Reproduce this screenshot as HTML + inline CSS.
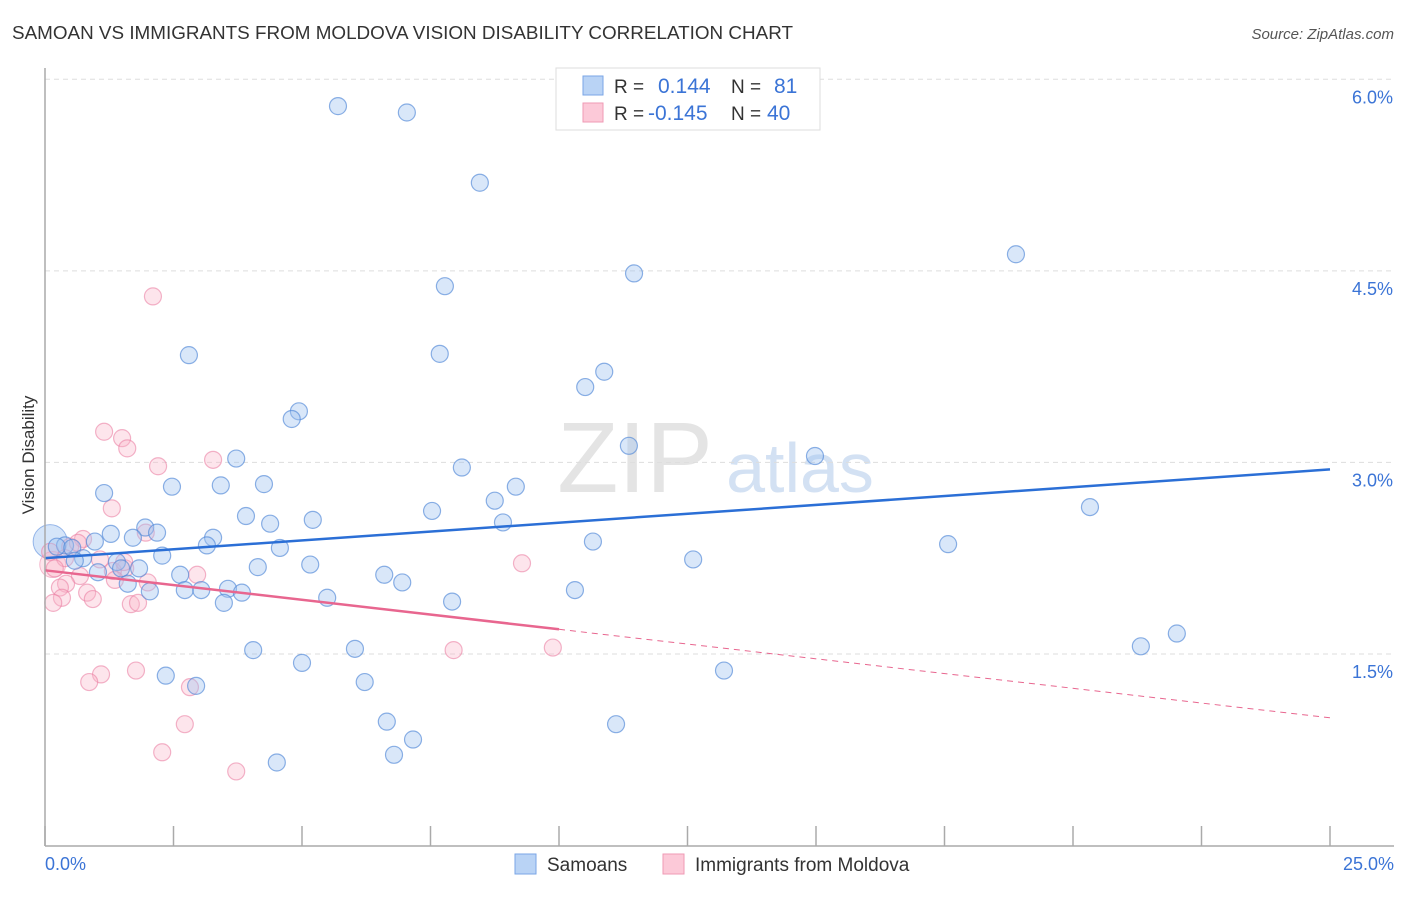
<!DOCTYPE html>
<html><head><meta charset="utf-8"><style>
body{margin:0;background:#fff;font-family:"Liberation Sans",sans-serif;}
svg text{font-family:"Liberation Sans",sans-serif;}
</style></head><body>
<svg id="c" width="1406" height="892" xmlns="http://www.w3.org/2000/svg">
<text x="12" y="39" font-size="18.8" fill="#333" textLength="781" lengthAdjust="spacingAndGlyphs">SAMOAN VS IMMIGRANTS FROM MOLDOVA VISION DISABILITY CORRELATION CHART</text>
<text x="1394" y="39" font-size="15" fill="#555" font-style="italic" text-anchor="end">Source: ZipAtlas.com</text>
<text transform="translate(34,455) rotate(-90)" font-size="17" fill="#333" text-anchor="middle">Vision Disability</text>
<text x="635" y="492" font-size="100" fill="#e4e4e4" font-family="Liberation Serif" text-anchor="middle">ZIP</text>
<text x="800" y="492" font-size="70" fill="#d3e1f3" text-anchor="middle">atlas</text>
<g id="grid"></g><g id="pts"></g><g id="lines"></g>
<line x1="45" y1="68" x2="45" y2="846" stroke="#aaa" stroke-width="1.5"/>
<line x1="45" y1="846" x2="1394" y2="846" stroke="#aaa" stroke-width="1.5"/>
<text x="45" y="870" font-size="18" fill="#3b74d6">0.0%</text>
<text x="1394" y="870" font-size="18" fill="#3b74d6" text-anchor="end">25.0%</text>
<g>
<rect x="556" y="68" width="264" height="62" fill="#fff" stroke="#ddd"/>
<rect x="583" y="76" width="20" height="19" fill="#b9d3f5" stroke="#7aa6e6"/>
<rect x="583" y="103" width="20" height="19" fill="#fcc9d8" stroke="#ef9ab4"/>
<text x="614" y="93" font-size="19" fill="#333">R =</text>
<text x="658" y="93" font-size="21" fill="#3b74d6">0.144</text>
<text x="731" y="93" font-size="19" fill="#333">N =</text>
<text x="774" y="93" font-size="21" fill="#3b74d6">81</text>
<text x="614" y="120" font-size="19" fill="#333">R =</text>
<text x="648" y="120" font-size="21" fill="#3b74d6">-0.145</text>
<text x="731" y="120" font-size="19" fill="#333">N =</text>
<text x="767" y="120" font-size="21" fill="#3b74d6">40</text>
</g>
<g>
<rect x="515" y="854" width="21" height="20" fill="#b9d3f5" stroke="#7aa6e6"/>
<text x="547" y="871" font-size="19" fill="#333">Samoans</text>
<rect x="663" y="854" width="21" height="20" fill="#fcc9d8" stroke="#ef9ab4"/>
<text x="695" y="871" font-size="19" fill="#333">Immigrants from Moldova</text>
</g>
</svg>
<script>
const yTicks=[1.5,3.0,4.5,6.0];
const yTickLabels=["1.5%","3.0%","4.5%","6.0%"];
const xTicks=[0,2.5,5,7.5,10,12.5,15,17.5,20,22.5,25];
const samoanX=[5.70,7.04,8.46,18.89,11.46,7.78,2.80,7.68,10.88,10.51,4.94,4.80,11.36,3.72,14.98,8.11,2.47,3.42,4.26,1.15,9.16,8.75,20.33,7.53,3.91,5.21,4.38,8.91,1.95,2.18,1.28,3.27,1.71,0.97,0.39,0.23,0.53,3.15,4.57,10.66,17.57,2.28,0.74,0.58,1.40,1.83,1.48,5.16,4.14,12.61,1.03,2.63,6.60,6.95,1.61,3.56,2.72,3.04,3.83,2.04,10.31,5.49,7.92,3.48,22.02,21.32,4.05,6.03,5.00,13.21,2.35,2.94,6.22,6.65,11.11,7.16,6.79,4.51];
const samoanY=[5.79,5.74,5.19,4.63,4.48,4.38,3.84,3.85,3.71,3.59,3.40,3.34,3.13,3.03,3.05,2.96,2.81,2.82,2.83,2.76,2.81,2.70,2.65,2.62,2.58,2.55,2.52,2.53,2.49,2.45,2.44,2.41,2.41,2.38,2.35,2.34,2.33,2.35,2.33,2.38,2.36,2.27,2.25,2.23,2.22,2.17,2.17,2.20,2.18,2.24,2.14,2.12,2.12,2.06,2.05,2.01,2.00,2.00,1.98,1.99,2.00,1.94,1.91,1.90,1.66,1.56,1.53,1.54,1.43,1.37,1.33,1.25,1.28,0.97,0.95,0.83,0.71,0.65];
const moldovaX=[2.10,1.15,1.50,1.60,2.20,3.27,1.30,1.96,0.74,0.10,0.49,0.39,0.19,0.64,1.07,1.56,1.32,1.54,2.96,0.68,0.41,2.00,1.36,0.29,0.82,0.93,0.33,0.16,1.67,1.81,9.28,7.95,9.88,1.77,1.09,0.86,2.82,2.72,2.28,3.72];
const moldovaY=[4.30,3.24,3.19,3.11,2.97,3.02,2.64,2.45,2.40,2.30,2.34,2.25,2.17,2.37,2.24,2.17,2.15,2.22,2.12,2.11,2.05,2.06,2.08,2.02,1.98,1.93,1.94,1.90,1.89,1.90,2.21,1.53,1.55,1.37,1.34,1.28,1.24,0.95,0.73,0.58];
const samoanFit=[2.25,2.945];
const moldovaFit=[2.155,1.0];
const X0=45,X1=1330,YB=845.5,YPX=127.7;
const sx=v=>X0+(X1-X0)*v/25;
const sy=v=>YB-v*YPX;
const NS="http://www.w3.org/2000/svg";
function mk(t,a,parent){const e=document.createElementNS(NS,t);for(const k in a)e.setAttribute(k,a[k]);parent.appendChild(e);return e;}
const grid=document.getElementById('grid'),pts=document.getElementById('pts'),lines=document.getElementById('lines'),svg=document.getElementById('c');
yTicks.forEach((v,i)=>{
 const l=mk('line',{x1:45,x2:1394,y1:sy(v),y2:sy(v),stroke:'#ddd','stroke-dasharray':'5,4'},grid);
 
 
 const t=mk('text',{x:1393,y:sy(v)+24,'font-size':18,fill:'#3b74d6','text-anchor':'end'},svg);
 t.textContent=yTickLabels[i];
 
 
});
xTicks.forEach(v=>{
 const l=mk('line',{x1:sx(v),x2:sx(v),y1:826,y2:846,stroke:'#aaa','stroke-width':1.5},svg);
 
 
});
const bigB=mk('circle',{cx:sx(0.1),cy:sy(2.38),r:17,fill:'rgba(150,190,240,0.4)',stroke:'rgba(90,140,220,0.6)'},pts);


const bigP=mk('circle',{cx:sx(0.15),cy:sy(2.2),r:13,fill:'rgba(248,180,200,0.35)',stroke:'rgba(235,130,165,0.5)'},pts);


moldovaX.forEach((x,i)=>{
 const c=mk('circle',{cx:sx(x),cy:sy(moldovaY[i]),r:8.5,fill:'rgba(248,180,200,0.35)',stroke:'rgba(235,130,165,0.6)','stroke-width':1.2},pts);
 
 
});
samoanX.forEach((x,i)=>{
 const c=mk('circle',{cx:sx(x),cy:sy(samoanY[i]),r:8.5,fill:'rgba(160,195,240,0.4)',stroke:'rgba(80,135,215,0.65)','stroke-width':1.2},pts);
 
 
});
const bl=mk('line',{x1:sx(0),y1:sy(samoanFit[0]),x2:sx(25),y2:sy(samoanFit[1]),stroke:'#2b6fd6','stroke-width':2.5},lines);


const pm=v=>moldovaFit[0]+(moldovaFit[1]-moldovaFit[0])*v/25;
const pl=mk('line',{x1:sx(0),y1:sy(pm(0)),x2:sx(10),y2:sy(pm(10)),stroke:'#e8668f','stroke-width':2.5},lines);


const pd=mk('line',{x1:sx(10),y1:sy(pm(10)),x2:sx(25),y2:sy(pm(25)),stroke:'#e8668f','stroke-width':1,'stroke-dasharray':'6,5'},lines);


</script>
</body></html>
